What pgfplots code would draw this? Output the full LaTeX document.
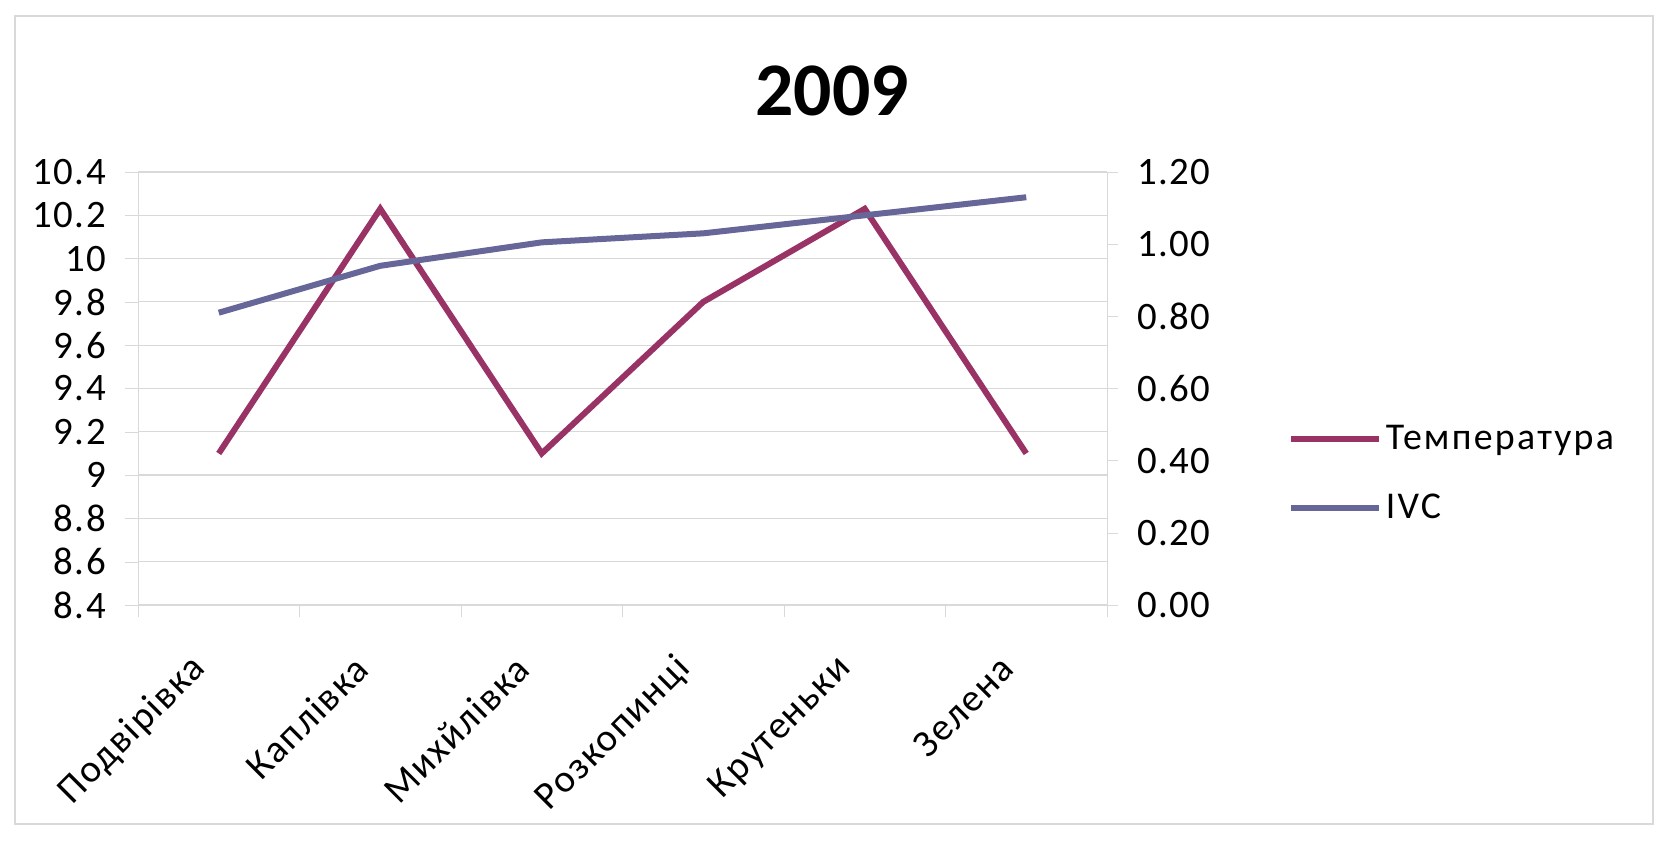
\documentclass[border=0pt]{standalone}
\usepackage{fontspec}
\setmainfont{Carlito}
\newfontfamily\tickfont{Carlito}[LetterSpace=4]
\newfontfamily\legfont{Carlito}[LetterSpace=6]
\usepackage{pgfplots}
\pgfplotsset{compat=1.18}

\definecolor{tempc}{RGB}{153,51,102}
\definecolor{ivcc}{RGB}{102,102,153}
\definecolor{gridc}{RGB}{217,217,217}

\begin{document}
\begin{tikzpicture}
\path[use as bounding box] (0,0) rectangle (838.5bp,422.5bp);
\draw[gridc, line width=0.6bp] (7.5bp,10.5bp) rectangle (826.5bp,414.5bp);
\node[font=\fontsize{38}{40}\selectfont\bfseries] at (416bp,377bp) {2009};

\begin{axis}[
    at={(69bp,120bp)}, anchor=south west,
    scale only axis, width=484.5bp, height=216.5bp,
    xmin=-0.5, xmax=5.5,
    ymin=8.4, ymax=10.4,
    axis x line*=bottom, axis y line*=left,
    axis line style={gridc, -},
    xtick={0,1,2,3,4,5},
    xticklabels={Подвірівка, Каплівка, Михйлівка, Розкопинці, Крутеньки, Зелена},
    minor xtick={-0.5,0.5,1.5,2.5,3.5,4.5,5.5},
    major x tick style={draw=none},
    minor x tick style={gridc},
    minor tick length=6bp,
    tick align=outside,
    ytick={8.4,8.6,8.8,9,9.2,9.4,9.6,9.8,10,10.2,10.4},
    yticklabels={8.4,8.6,8.8,9,9.2,9.4,9.6,9.8,10,10.2,10.4},
    y tick style={gridc},
    major tick length=6.5bp,
    ymajorgrids, grid style={gridc, line width=0.6bp},
    ticklabel style={font=\tickfont\fontsize{19.5}{22}\selectfont},
    yticklabel style={xshift=-6bp},
    xticklabel style={xshift=-7bp, yshift=-20bp, rotate=45, anchor=east},
    legend style={draw=none, fill=none, at={(1.180,0.304)}, anchor=west,
        font=\legfont\fontsize{19}{22}\selectfont, row sep=17bp,
        legend cell align=left},
    legend image code/.code={\draw[#1] (0bp,0bp) -- (44bp,0bp);},
]
\addplot[tempc, line width=3bp] coordinates {
    (0,9.1) (1,10.23) (2,9.1) (3,9.8) (4,10.23) (5,9.1)
};
\addlegendentry{Температура}
\addlegendimage{ivcc, line width=3bp}
\addlegendentry{IVC}
\end{axis}

\begin{axis}[
    at={(69bp,120bp)}, anchor=south west,
    scale only axis, width=484.5bp, height=216.5bp,
    xmin=-0.5, xmax=5.5,
    ymin=0, ymax=1.2,
    axis x line=none, axis y line*=right,
    axis line style={gridc, -},
    ytick={0,0.2,0.4,0.6,0.8,1.0,1.2},
    yticklabels={0.00,0.20,0.40,0.60,0.80,1.00,1.20},
    y tick style={gridc},
    major tick length=5.5bp,
    tick align=outside,
    ticklabel style={font=\tickfont\fontsize{19.5}{22}\selectfont},
    yticklabel style={xshift=6bp},
]
\addplot[ivcc, line width=3bp] coordinates {
    (0,0.81) (1,0.94) (2,1.005) (3,1.03) (4,1.08) (5,1.13)
};
\end{axis}
\end{tikzpicture}
\end{document}
